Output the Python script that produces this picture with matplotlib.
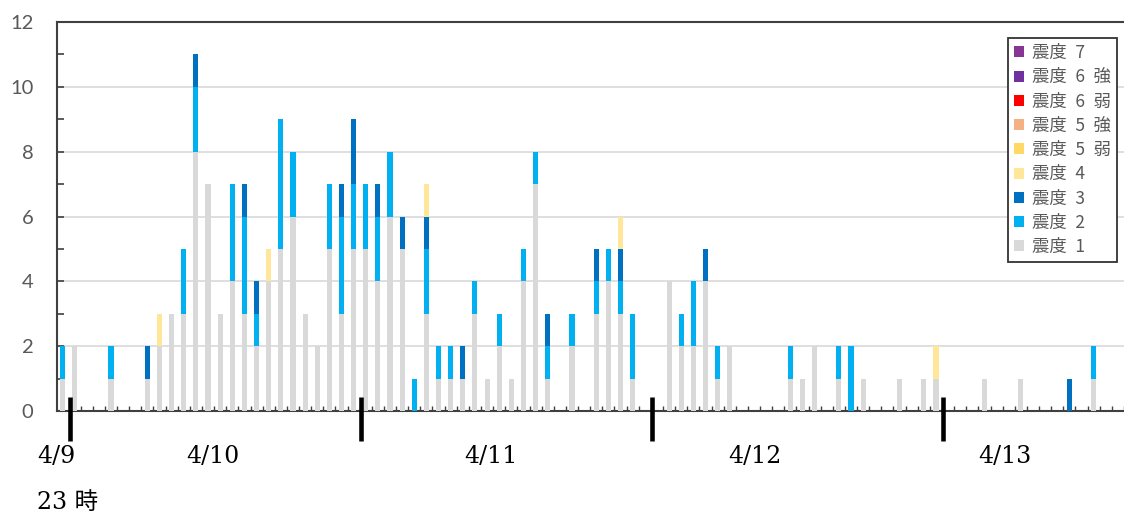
import numpy as np
import matplotlib
matplotlib.use("Agg")
import matplotlib.pyplot as plt
from matplotlib.patches import Patch
from matplotlib.transforms import blended_transform_factory

plt.rcParams['font.family'] = ['Lato', 'Noto Sans CJK JP', 'DejaVu Sans']

# hourly counts from 4/9 23時, one entry per hour, per intensity (震度)
shindo1 = [1, 2, 0, 0, 1, 0, 0, 1, 2, 3, 3, 8, 7, 3, 4, 3, 2, 4, 5, 6,
           3, 2, 5, 3, 5, 5, 4, 6, 5, 0, 3, 1, 1, 1, 3, 1, 2, 1, 4, 7,
           1, 0, 2, 0, 3, 4, 3, 1, 0, 0, 4, 2, 2, 4, 1, 2, 0, 0, 0, 0,
           1, 1, 2, 0, 1, 0, 1, 0, 0, 1, 0, 1, 1, 0, 0, 0, 1, 0, 0, 1,
           0, 0, 0, 0, 0, 1, 0, 0]
shindo2 = [1, 0, 0, 0, 1, 0, 0, 0, 0, 0, 2, 2, 0, 0, 3, 3, 1, 0, 4, 2,
           0, 0, 2, 3, 2, 2, 2, 2, 0, 1, 2, 1, 1, 0, 1, 0, 1, 0, 1, 1,
           1, 0, 1, 0, 1, 1, 1, 2, 0, 0, 0, 1, 2, 0, 1, 0, 0, 0, 0, 0,
           1, 0, 0, 0, 1, 2, 0, 0, 0, 0, 0, 0, 0, 0, 0, 0, 0, 0, 0, 0,
           0, 0, 0, 0, 0, 1, 0, 0]
shindo3 = [0, 0, 0, 0, 0, 0, 0, 1, 0, 0, 0, 1, 0, 0, 0, 1, 1, 0, 0, 0,
           0, 0, 0, 1, 2, 0, 1, 0, 1, 0, 1, 0, 0, 1, 0, 0, 0, 0, 0, 0,
           1, 0, 0, 0, 1, 0, 1, 0, 0, 0, 0, 0, 0, 1, 0, 0, 0, 0, 0, 0,
           0, 0, 0, 0, 0, 0, 0, 0, 0, 0, 0, 0, 0, 0, 0, 0, 0, 0, 0, 0,
           0, 0, 0, 1, 0, 0, 0, 0]
shindo4 = [0, 0, 0, 0, 0, 0, 0, 0, 1, 0, 0, 0, 0, 0, 0, 0, 0, 1, 0, 0,
           0, 0, 0, 0, 0, 0, 0, 0, 0, 0, 1, 0, 0, 0, 0, 0, 0, 0, 0, 0,
           0, 0, 0, 0, 0, 0, 1, 0, 0, 0, 0, 0, 0, 0, 0, 0, 0, 0, 0, 0,
           0, 0, 0, 0, 0, 0, 0, 0, 0, 0, 0, 0, 1, 0, 0, 0, 0, 0, 0, 0,
           0, 0, 0, 0, 0, 0, 0, 0]
zeros = [0] * len(shindo1)
shindo5_lo = zeros
shindo5_hi = zeros
shindo6_lo = zeros
shindo6_hi = zeros
shindo7 = zeros

labels = ['震度 1', '震度 2', '震度 3', '震度 4', '震度 5 弱',
          '震度 5 強', '震度 6 弱', '震度 6 強', '震度 7']
colors = ['#D9D9D9', '#00B0F0', '#0070C0', '#FFE699', '#FFD966',
          '#F4B183', '#FF0000', '#7030A0', '#873695']
days = ['4/9', '4/10', '4/11', '4/12', '4/13']
day_label_x = [-2.1, 12.4, 35.3, 57.1, 77.7]

series = [shindo1, shindo2, shindo3, shindo4, shindo5_lo,
          shindo5_hi, shindo6_lo, shindo6_hi, shindo7]
hours = np.arange(len(shindo1))

fig = plt.figure(figsize=(11.24, 5.14), dpi=100)
ax = fig.add_axes([57 / 1124, 103 / 514, 1 - 57 / 1124, 389 / 514])

bottom = np.zeros(len(hours))
for vals, lab, col in zip(series, labels, colors):
    vals = np.array(vals, dtype=float)
    ax.bar(hours, vals, width=0.42, bottom=bottom, color=col, label=lab,
           zorder=3, linewidth=0)
    bottom += vals

ax.set_xlim(-0.45, 87.5)
ax.set_ylim(0, 12)
ax.set_yticks(np.arange(0, 13, 2))
ax.set_yticks(np.arange(1, 12, 2), minor=True)
ax.set_xticks([])
ax.set_xticks(hours[1:] + 0.5, minor=True)
ax.yaxis.grid(True, which='major', color='#D9D9D9', linewidth=1.2, zorder=0)
ax.tick_params(axis='y', which='both', direction='in', length=5, width=1.2,
               color='#404040', labelsize=14.5, labelcolor='#595959', pad=17)
ax.tick_params(axis='x', which='minor', direction='in', length=3.5, width=1.0,
               color='#404040')
for s in ['left', 'bottom', 'top']:
    ax.spines[s].set_color('#404040')
    ax.spines[s].set_linewidth(1.5)
ax.spines['right'].set_visible(False)

# day boundary marks and date labels
trans = blended_transform_factory(ax.transData, ax.transAxes)
for d in range(4):
    xb = 0.6 + 24 * d
    ax.plot([xb, xb], [0.036, -0.077], color='black', linewidth=3.3,
            transform=trans, clip_on=False, solid_capstyle='butt', zorder=5)
for lab, xl in zip(days, day_label_x):
    ha = 'left' if lab == '4/9' else 'center'
    ax.text(xl, -0.116, lab, transform=trans, ha=ha, va='center',
            fontsize=17, family=['DejaVu Serif'], color='black')
ax.text(-2.1, -0.234, '23 時', transform=trans, ha='left', va='center',
        fontsize=17, family=['DejaVu Serif', 'Noto Sans CJK JP'], color='black')

handles = [Patch(facecolor=c, edgecolor='none') for c in colors][::-1]
leg = ax.legend(handles, [l.replace(' ', '\u2002') for l in labels[::-1]],
                loc='upper right',
                bbox_to_anchor=(1117 / 1124, 1 - 38 / 514),
                bbox_transform=fig.transFigure, borderaxespad=0,
                fancybox=False, framealpha=1, edgecolor='#333333',
                prop={'family': 'Noto Sans CJK JP', 'size': 12.5},
                labelcolor='#595959', handlelength=0.6, handleheight=0.6,
                handletextpad=0.45, labelspacing=0.36, borderpad=0.35)
leg.get_frame().set_linewidth(1.3)

fig.savefig('out.png', dpi=100)
